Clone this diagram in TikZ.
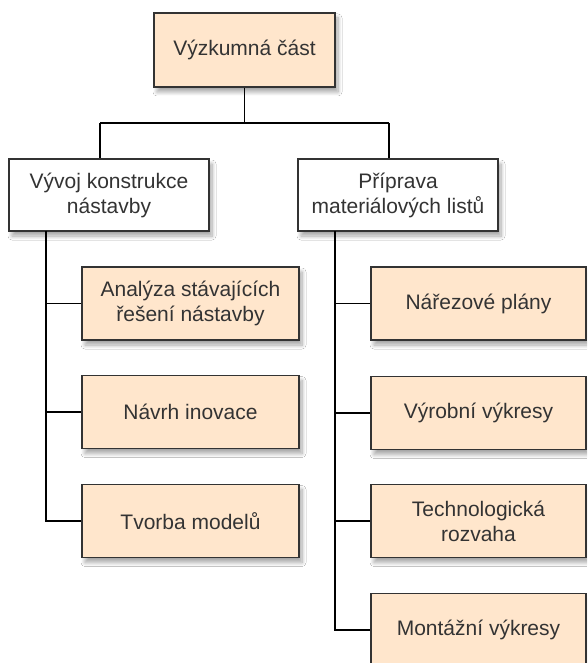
\documentclass[tikz,border=0pt]{standalone}
\usepackage{fontspec}
\setmainfont{Liberation Sans}
\usetikzlibrary{shadows.blur}
\definecolor{peach}{HTML}{FFE6CC}
\definecolor{txt}{HTML}{333333}
\begin{document}
\begin{tikzpicture}[x=1pt,y=1pt,
  box/.style={draw=txt, line width=1.6pt, align=center, text=txt,
    font=\fontsize{21}{25}\selectfont, inner sep=0pt,
    blur shadow={shadow xshift=3pt, shadow yshift=-5pt, shadow blur steps=8,
      shadow blur radius=4pt, shadow opacity=35}},
  leaf/.style={box, fill=peach},
  head/.style={box, fill=white},
  wire/.style={line width=1.6pt, black}]
\useasboundingbox (0,0) rectangle (587,-663);
\fill[white] (0,0) rectangle (587,-663);
\begin{scope}
\clip (0,0) rectangle (587,-663);
% root
\node[leaf, minimum width=181pt, minimum height=74pt] (top) at (244.5,-50) {Výzkumná část};
% second level
\node[head, minimum width=200pt, minimum height=72pt] (L) at (109,-195) {Vývoj konstrukce\\nástavby};
\node[head, minimum width=200pt, minimum height=72pt] (R) at (398,-195) {Příprava\\materiálových listů};
% left branch
\node[leaf, minimum width=217pt, minimum height=73pt] (a1) at (190.5,-303.5) {Analýza stávajících\\řešení nástavby};
\node[leaf, minimum width=217pt, minimum height=73pt] (a2) at (190.5,-412) {Návrh inovace};
\node[leaf, minimum width=217pt, minimum height=73pt] (a3) at (190.5,-521) {Tvorba modelů};
% right branch
\node[leaf, minimum width=215pt, minimum height=73pt] (b1) at (478.5,-303.5) {Nářezové plány};
\node[leaf, minimum width=215pt, minimum height=73pt] (b2) at (478.5,-413) {Výrobní výkresy};
\node[leaf, minimum width=215pt, minimum height=73pt] (b3) at (478.5,-521) {Technologická\\rozvaha};
\node[leaf, minimum width=215pt, minimum height=73pt] (b4) at (478.5,-630) {Montážní výkresy};
% connectors
\coordinate (jL) at (100,-123);
\coordinate (jR) at (389,-123);
\coordinate (tL) at (46,-231);
\coordinate (tR) at (335,-231);
\draw[wire] (top.south) -- (top.south |- jL);
\draw[wire] (jL) -- (jR);
\draw[wire] (jL) -- (jL |- L.north);
\draw[wire] (jR) -- (jR |- R.north);
\draw[wire] (tL) |- (a1.west);
\draw[wire] (tL) |- (a2.west);
\draw[wire] (tL) |- (a3.west);
\draw[wire] (tR) |- (b1.west);
\draw[wire] (tR) |- (b2.west);
\draw[wire] (tR) |- (b3.west);
\draw[wire] (tR) |- (b4.west);
\end{scope}
\end{tikzpicture}
\end{document}
